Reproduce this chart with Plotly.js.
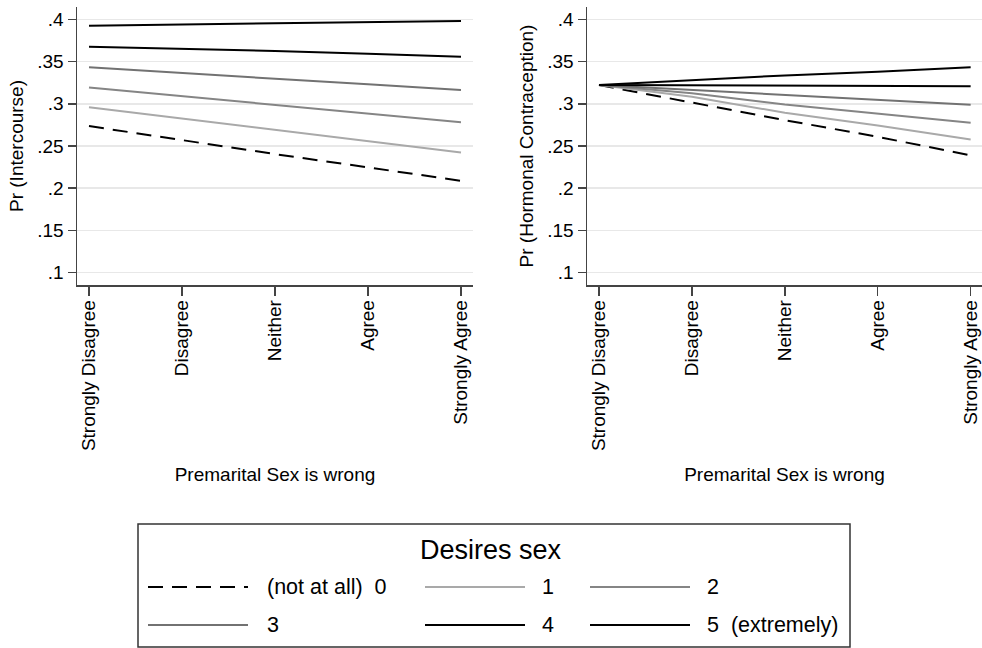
<!DOCTYPE html>
<html>
<head>
<meta charset="utf-8">
<script src="https://cdn.plot.ly/plotly-3.0.1.min.js"></script>
<style>html,body{margin:0;padding:0;background:#fff;}#chart{width:982px;height:648px;}</style>
</head>
<body>
<div id="chart"></div>
<script>
// ---- data ----
const categories = ['Strongly Disagree', 'Disagree', 'Neither', 'Agree', 'Strongly Agree'];
const xvals = [1, 2, 3, 4, 5];
const yTickVals = [0.1, 0.15, 0.2, 0.25, 0.3, 0.35, 0.4];
const yTickText = ['.1', '.15', '.2', '.25', '.3', '.35', '.4'];
const seriesNames = ['(not at all)\u00a0 0', '1', '2', '3', '4', '5\u00a0 (extremely)'];

// Pr (Intercourse)
const inter0 = [0.2736, 0.2570, 0.2404, 0.2247, 0.2088];
const inter1 = [0.2960, 0.2827, 0.2689, 0.2554, 0.2424];
const inter2 = [0.3194, 0.3091, 0.2993, 0.2886, 0.2780];
const inter3 = [0.3431, 0.3367, 0.3296, 0.3230, 0.3162];
const inter4 = [0.3675, 0.3652, 0.3624, 0.3592, 0.3557];
const inter5 = [0.3924, 0.3940, 0.3948, 0.3964, 0.3980];

// Pr (Hormonal Contraception)
const horm0 = [0.3222, 0.3012, 0.2806, 0.2609, 0.2389];
const horm1 = [0.3222, 0.3083, 0.2894, 0.2744, 0.2578];
const horm2 = [0.3222, 0.3125, 0.2991, 0.2886, 0.2775];
const horm3 = [0.3222, 0.3164, 0.3103, 0.3047, 0.2988];
const horm4 = [0.3222, 0.3220, 0.3216, 0.3211, 0.3206];
const horm5 = [0.3222, 0.3281, 0.3336, 0.3379, 0.3431];

// ---- styles ----
const W = 982, H = 648;
const FONT = 'Liberation Sans, Arial, sans-serif';
const lineColors = ['#000000', '#a9a9a9', '#858585', '#727272', '#000000', '#000000'];
const lineDash = ['15px,9px', 'solid', 'solid', 'solid', 'solid', 'solid'];
const AX = '#444444';
const px = x => x / W;
const py = y => 1 - y / H;

const interSeries = [inter0, inter1, inter2, inter3, inter4, inter5];
const hormSeries = [horm0, horm1, horm2, horm3, horm4, horm5];

const traces = [];
interSeries.forEach((s, i) => traces.push({
  x: xvals, y: s, type: 'scatter', mode: 'lines', name: seriesNames[i],
  xaxis: 'x', yaxis: 'y', showlegend: false, hoverinfo: 'skip',
  line: {color: lineColors[i], width: 2, dash: lineDash[i]}
}));
hormSeries.forEach((s, i) => traces.push({
  x: xvals, y: s, type: 'scatter', mode: 'lines', name: seriesNames[i],
  xaxis: 'x2', yaxis: 'y2', showlegend: false, hoverinfo: 'skip',
  line: {color: lineColors[i], width: 2, dash: lineDash[i]}
}));

function xAxis(domain, range, anchor) {
  return {
    domain: domain, range: range, anchor: anchor,
    tickmode: 'array', tickvals: xvals, ticktext: categories, tickangle: -90,
    ticks: 'outside', ticklen: 9, tickwidth: 1.5, tickcolor: AX,
    ticklabelstandoff: -3,
    showline: true, linecolor: AX, linewidth: 1.5,
    showgrid: false, zeroline: false, fixedrange: true,
    tickfont: {family: FONT, size: 19, color: '#000'},
    title: {text: 'Premarital Sex is wrong', font: {family: FONT, size: 19, color: '#000'}, standoff: 17}
  };
}
function yAxis(domain, anchor, title) {
  return {
    domain: domain, range: [0.08544, 0.41456], anchor: anchor,
    tickmode: 'array', tickvals: yTickVals, ticktext: yTickText,
    ticks: 'outside', ticklen: 8, tickwidth: 1.5, tickcolor: AX,
    showline: true, linecolor: AX, linewidth: 1.5,
    showgrid: true, gridcolor: '#e8e8e8', gridwidth: 1.5,
    zeroline: false, fixedrange: true,
    tickfont: {family: FONT, size: 19, color: '#000'},
    title: {text: title, font: {family: FONT, size: 19, color: '#000'}, standoff: 8}
  };
}

const yDom = [py(285), py(7)];

// ---- manual legend (Stata style) ----
const legCols = [[148, 248, 265], [425, 525, 540], [590, 690, 705]];
const legRows = [587, 625];
const shapes = [{
  type: 'rect', xref: 'paper', yref: 'paper',
  x0: px(138), x1: px(850), y0: py(647), y1: py(524),
  line: {color: '#333', width: 1.5}, fillcolor: 'rgba(0,0,0,0)'
}];
const annotations = [{
  xref: 'paper', yref: 'paper', x: px(491), y: py(550), text: 'Desires sex',
  showarrow: false, xanchor: 'center', yanchor: 'middle',
  font: {family: FONT, size: 27, color: '#000'}
}];
seriesNames.forEach((nm, i) => {
  const c = legCols[i % 3], r = legRows[Math.floor(i / 3)];
  shapes.push({
    type: 'line', xref: 'paper', yref: 'paper',
    x0: px(c[0]), x1: px(c[1]), y0: py(r), y1: py(r),
    line: {color: lineColors[i], width: 2, dash: lineDash[i]}
  });
  annotations.push({
    xref: 'paper', yref: 'paper', x: px(c[2]), y: py(r), text: nm,
    showarrow: false, xanchor: 'left', yanchor: 'middle',
    font: {family: FONT, size: 21.5, color: '#000'}
  });
});

const layout = {
  width: W, height: H,
  margin: {l: 0, r: 0, t: 0, b: 0},
  paper_bgcolor: '#fff', plot_bgcolor: '#fff',
  font: {family: FONT, color: '#000'},
  showlegend: false,
  xaxis: xAxis([px(77), px(473)], [0.871, 5.129], 'y'),
  yaxis: yAxis(yDom, 'x', 'Pr (Intercourse)'),
  xaxis2: xAxis([px(587), 1], [0.871, 5.122], 'y2'),
  yaxis2: yAxis(yDom, 'x2', 'Pr (Hormonal Contraception)'),
  shapes: shapes,
  annotations: annotations
};

Plotly.newPlot('chart', traces, layout, {displayModeBar: false, staticPlot: true});
</script>
</body>
</html>
